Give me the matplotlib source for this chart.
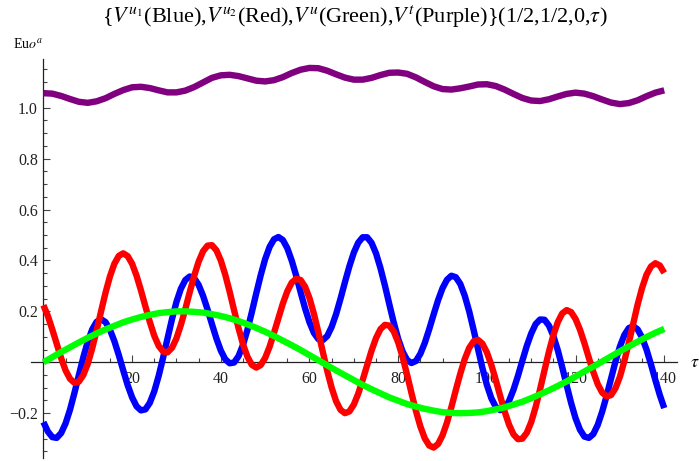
# plot.py - Mathematica style plot of V^u1, V^u2, V^u, V^t along tau
import numpy as np
import matplotlib
matplotlib.use("Agg")
import matplotlib.pyplot as plt
from matplotlib.ticker import MultipleLocator, FixedLocator

plt.rcParams['font.family'] = ['Liberation Serif', 'DejaVu Serif']
plt.rcParams['mathtext.fontset'] = 'stix'

# tau grid (1 step for the fast curves, 2 step for the slow ones)
tau = np.arange(0, 141, 1)
tau2 = np.arange(0, 141, 2)

# V^u1 (blue)
v_u1 = [-.235, -.272, -.294, -.297, -.278, -.240, -.186, -.120, -.050, .020,
        .081, .129, .159, .169, .158, .128, .083, .028, -.032, -.090,
        -.138, -.173, -.189, -.185, -.159, -.114, -.053, .019, .095, .170,
        .237, .289, .323, .337, .330, .304, .261, .208, .150, .094,
        .046, .012, -.004, -.001, .024, .068, .127, .197, .271, .342,
        .405, .453, .483, .492, .480, .448, .399, .340, .275, .212,
        .157, .115, .091, .087, .103, .139, .189, .250, .315, .377,
        .431, .470, .491, .491, .469, .428, .370, .302, .228, .156,
        .092, .042, .009, -.003, .005, .033, .076, .130, .188, .244,
        .291, .324, .340, .334, .308, .262, .201, .128, .052, -.023,
        -.089, -.141, -.175, -.188, -.180, -.152, -.108, -.054, .006, .064,
        .113, .150, .168, .167, .144, .103, .047, -.020, -.091, -.160,
        -.220, -.265, -.292, -.297, -.282, -.246, -.194, -.132, -.064, .003,
        .062, .107, .134, .142, .129, .097, .050, -.008, -.070, -.129,
        -.180]

# V^u2 (red)
v_u2 = [.224, .182, .129, .072, .016, -.032, -.065, -.081, -.076, -.050,
        -.006, .055, .125, .200, .273, .337, .387, .418, .428, .417,
        .387, .340, .282, .219, .158, .104, .064, .042, .039, .057,
        .094, .147, .209, .276, .340, .395, .436, .458, .460, .440,
        .400, .344, .277, .204, .134, .071, .022, -.010, -.021, -.011,
        .017, .061, .116, .174, .231, .279, .313, .328, .323, .297,
        .252, .190, .118, .041, -.034, -.100, -.153, -.187, -.200, -.193,
        -.166, -.123, -.069, -.011, .046, .095, .130, .147, .144, .121,
        .078, .020, -.048, -.121, -.191, -.252, -.299, -.327, -.335, -.321,
        -.287, -.237, -.176, -.109, -.045, .012, .056, .082, .088, .073,
        .039, -.010, -.069, -.132, -.193, -.245, -.283, -.302, -.300, -.277,
        -.235, -.176, -.106, -.031, .042, .107, .158, .192, .205, .197,
        .170, .128, .075, .017, -.038, -.086, -.119, -.134, -.129, -.102,
        -.057, .005, .076, .152, .227, .292, .344, .376, .389, .380,
        .351]

# V^u (green), every 2 in tau
v_u = [0, .020, .040, .059, .078, .096, .113, .129, .143, .157,
       .168, .178, .186, .193, .197, .200, .200, .198, .195, .189,
       .182, .173, .162, .149, .135, .120, .103, .085, .067, .048,
       .028, .008, -.012, -.032, -.051, -.070, -.089, -.106, -.122, -.138,
       -.151, -.164, -.174, -.183, -.190, -.196, -.199, -.200, -.199, -.197,
       -.192, -.185, -.177, -.166, -.155, -.141, -.126, -.110, -.093, -.075,
       -.056, -.036, -.017, .003, .023, .043, .062, .081, .099, .116,
       .131]

# V^t (purple), every 2 in tau
v_t = [1.057, 1.055, 1.046, 1.034, 1.023, 1.019, 1.025, 1.037, 1.054, 1.069,
       1.080, 1.082, 1.077, 1.068, 1.060, 1.060, 1.067, 1.081, 1.099, 1.117,
       1.127, 1.129, 1.124, 1.115, 1.106, 1.103, 1.108, 1.120, 1.136, 1.149,
       1.156, 1.155, 1.145, 1.131, 1.118, 1.110, 1.110, 1.117, 1.128, 1.137,
       1.138, 1.133, 1.119, 1.101, 1.084, 1.073, 1.071, 1.076, 1.083, 1.091,
       1.092, 1.085, 1.071, 1.054, 1.038, 1.028, 1.026, 1.033, 1.044, 1.054,
       1.059, 1.055, 1.045, 1.032, 1.020, 1.014, 1.018, 1.029, 1.045, 1.059,
       1.068]

x_major = [20, 40, 60, 80, 100, 120, 140]
y_major = [-0.2, 0.2, 0.4, 0.6, 0.8, 1.0]
y_labels = ['\u22120.2', '0.2', '0.4', '0.6', '0.8', '1.0']

fig = plt.figure(figsize=(6.99, 4.61), dpi=100)
ax = fig.add_axes([0.04435, 0.0065, 0.9237, 0.8649])

lw = 4.6
ax.plot(tau, v_u1, color=(0, 0, 1), lw=lw, solid_capstyle='butt', zorder=3)
ax.plot(tau, v_u2, color=(1, 0, 0), lw=lw, solid_capstyle='butt', zorder=3)
ax.plot(tau2, v_u, color=(0, 1, 0), lw=lw, solid_capstyle='butt', zorder=3)
ax.plot(tau2, v_t, color=(0.5, 0, 0.5), lw=lw, solid_capstyle='butt', zorder=3)

ax.set_xlim(-2.8, 142.8)
ax.set_ylim(-0.376, 1.19)

# axes through the origin
for s in ['top', 'right']:
    ax.spines[s].set_visible(False)
ax.spines['left'].set_position(('data', 0))
ax.spines['bottom'].set_position(('data', 0))
for s in ['left', 'bottom']:
    ax.spines[s].set_color('#222222')
    ax.spines[s].set_linewidth(0.9)

ax.xaxis.set_major_locator(FixedLocator(x_major))
ax.xaxis.set_minor_locator(MultipleLocator(5))
ax.set_xticklabels([str(v) for v in x_major])
ax.yaxis.set_major_locator(FixedLocator(y_major))
ax.yaxis.set_minor_locator(MultipleLocator(0.05))
ax.set_yticklabels(y_labels)

ax.tick_params(which='both', direction='in', color='#444444', width=0.8)
ax.tick_params(which='major', length=5, labelsize=11.5, labelcolor='#222222')
ax.tick_params(which='minor', length=3)
ax.tick_params(axis='x', which='major', pad=6)
ax.tick_params(axis='y', which='major', pad=4)

# axis labels and title
fig.text(695 / 699, 1 - 362 / 461, r'$\tau$', fontsize=13,
         ha='center', va='center')
fig.text(28 / 699, 1 - 44 / 461, r'Eu$o^{a}$', fontsize=10,
         ha='center', va='center')
title = (r'{$V^{u_1}$(Blue),$V^{u_2}$(Red),$V^{u}$(Green),'
         r'$V^{t}$(Purple)}(1/2,1/2,0,$\tau$)')
fig.text(355 / 699, 1 - 17 / 461, title, fontsize=16,
         ha='center', va='center')

fig.savefig('out.png', dpi=100)
